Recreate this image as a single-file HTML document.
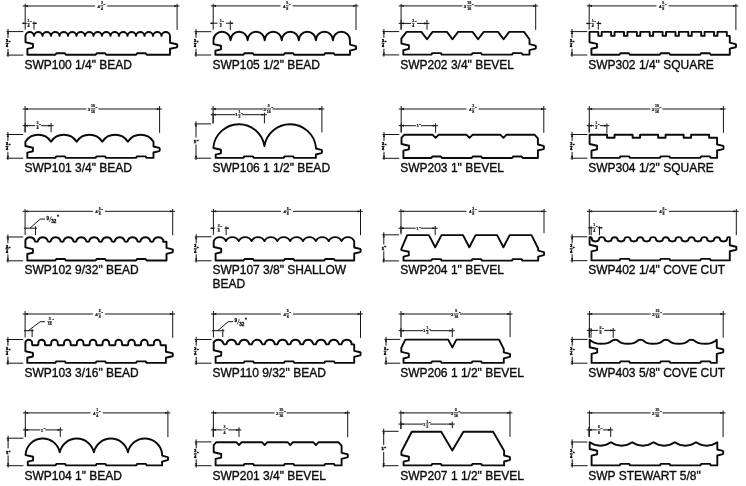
<!DOCTYPE html>
<html>
<head>
<meta charset="utf-8">
<title>SWP Profiles</title>
<style>
html,body{margin:0;padding:0;background:#fff;}
body{width:746px;height:486px;overflow:hidden;}
svg{display:block;font-family:"Liberation Sans",sans-serif;will-change:transform;filter:grayscale(1);}
</style>
</head>
<body>
<svg width="746" height="486" viewBox="0 0 746 486">
<rect width="746" height="486" fill="#fff"/>
<path d="M25.5 35.9 A4.26 4.26 0 0 1 34 35.9 A4.26 4.26 0 0 1 42.5 35.9 A4.26 4.26 0 0 1 51 35.9 A4.26 4.26 0 0 1 59.5 35.9 A4.26 4.26 0 0 1 68 35.9 A4.26 4.26 0 0 1 76.5 35.9 A4.26 4.26 0 0 1 85 35.9 A4.26 4.26 0 0 1 93.5 35.9 A4.26 4.26 0 0 1 102 35.9 A4.26 4.26 0 0 1 110.5 35.9 A4.26 4.26 0 0 1 119 35.9 A4.26 4.26 0 0 1 127.5 35.9 A4.26 4.26 0 0 1 136 35.9 A4.26 4.26 0 0 1 144.5 35.9 A4.26 4.26 0 0 1 153 35.9 A4.26 4.26 0 0 1 161.5 35.9 A4.26 4.26 0 0 1 170 35.9 L170 42.8 L176.8 44.25 L177.2 44.65 L177.2 46.95 L176.8 47.35 L170 48.8 L170 54.8 L146.7 54.8 L145.7 53.3 L137.1 53.3 L136.1 54.8 L106.2 54.8 L105.2 53.3 L96.7 53.3 L95.7 54.8 L65.9 54.8 L64.9 53.3 L56.4 53.3 L55.4 54.8 L27.4 54.8 L27.4 48.9 L33 47.6 L33 44 L25.5 42.3 Z" fill="none" stroke="#0a0a0a" stroke-width="1.9" stroke-linejoin="round"/>
<line x1="22.8" y1="6" x2="95.15" y2="6" stroke="#141414" stroke-width="1.0"/>
<line x1="107.15" y1="6" x2="179.5" y2="6" stroke="#141414" stroke-width="1.0"/>
<line x1="25.2" y1="3.8" x2="25.2" y2="29.6" stroke="#141414" stroke-width="1.0"/>
<line x1="177.1" y1="3.8" x2="177.1" y2="29.9" stroke="#141414" stroke-width="1.0"/>
<polygon points="25.2,6 28,4.85 28,7.15" fill="#141414"/>
<polygon points="177.1,6 174.3,4.85 174.3,7.15" fill="#141414"/>
<g transform="translate(101.15 6) scale(0.1)" font-weight="bold" fill="#141414" stroke="#141414" stroke-width="2"><text x="-35.5" y="16" font-size="44">4</text><text x="7.5" y="-16" font-size="36" text-anchor="middle">3</text><rect x="-4.5" y="-4" width="24" height="6"/><text x="7.5" y="38" font-size="36" text-anchor="middle">4</text><text x="22.5" y="8" font-size="42">"</text></g>
<line x1="8" y1="29" x2="8" y2="37.85" stroke="#141414" stroke-width="1.0"/>
<line x1="8" y1="48.85" x2="8" y2="56.9" stroke="#141414" stroke-width="1.0"/>
<line x1="6.5" y1="31.6" x2="23.3" y2="31.6" stroke="#141414" stroke-width="1.0"/>
<line x1="6.5" y1="55.1" x2="23.3" y2="55.1" stroke="#141414" stroke-width="1.0"/>
<polygon points="8,31.3 6.85,34.1 9.15,34.1" fill="#141414"/>
<polygon points="8,55.4 6.85,52.6 9.15,52.6" fill="#141414"/>
<g transform="translate(7.8 43.55) scale(0.1)" font-weight="bold" fill="#141414" stroke="#141414" stroke-width="5"><text x="-7" y="-16" font-size="36" text-anchor="middle">3</text><rect x="-19" y="-4" width="24" height="6"/><text x="-7" y="38" font-size="36" text-anchor="middle">4</text><text x="8" y="8" font-size="42">"</text></g>
<line x1="34" y1="21.5" x2="34" y2="29.6" stroke="#141414" stroke-width="1.0"/>
<polygon points="25.2,23.3 23,22.3 23,24.3" fill="#141414"/>
<polygon points="34,23.3 36.2,22.3 36.2,24.3" fill="#141414"/>
<line x1="22.2" y1="23.3" x2="26.8" y2="23.3" stroke="#141414" stroke-width="1.0"/>
<line x1="32.4" y1="23.3" x2="37" y2="23.3" stroke="#141414" stroke-width="1.0"/>
<g transform="translate(29.2 23.5) scale(0.1)" font-weight="bold" fill="#141414" stroke="#141414" stroke-width="2"><text x="-7" y="-16" font-size="36" text-anchor="middle">1</text><rect x="-19" y="-4" width="24" height="6"/><text x="-7" y="38" font-size="36" text-anchor="middle">4</text><text x="8" y="8" font-size="42">"</text></g>
<text x="24.4" y="69.2" font-size="12" fill="#0c0c0c" stroke="#0c0c0c" stroke-width="0.35">SWP100 1/4" BEAD</text>
<path d="M213.5 40.3 A8.53 8.53 0 0 1 230.56 40.3 A8.53 8.53 0 0 1 247.62 40.3 A8.53 8.53 0 0 1 264.69 40.3 A8.53 8.53 0 0 1 281.75 40.3 A8.53 8.53 0 0 1 298.81 40.3 A8.53 8.53 0 0 1 315.88 40.3 A8.53 8.53 0 0 1 332.94 40.3 A8.53 8.53 0 0 1 350 40.3 L350 44.6 L355.7 46.05 L356.1 46.45 L356.1 48.75 L355.7 49.15 L350 50.6 L350 54.7 L334.7 54.7 L333.7 53.2 L325.1 53.2 L324.1 54.7 L294.2 54.7 L293.2 53.2 L284.7 53.2 L283.7 54.7 L253.9 54.7 L252.9 53.2 L244.4 53.2 L243.4 54.7 L215.4 54.7 L215.4 50.7 L221 49.4 L221 45.8 L213.5 44.1 Z" fill="none" stroke="#0a0a0a" stroke-width="1.9" stroke-linejoin="round"/>
<line x1="210.8" y1="5.9" x2="280.6" y2="5.9" stroke="#141414" stroke-width="1.0"/>
<line x1="292.6" y1="5.9" x2="358.4" y2="5.9" stroke="#141414" stroke-width="1.0"/>
<line x1="213.2" y1="3.8" x2="213.2" y2="29.7" stroke="#141414" stroke-width="1.0"/>
<line x1="356" y1="3.8" x2="356" y2="30" stroke="#141414" stroke-width="1.0"/>
<polygon points="213.2,5.9 216,4.75 216,7.05" fill="#141414"/>
<polygon points="356,5.9 353.2,4.75 353.2,7.05" fill="#141414"/>
<g transform="translate(286.6 5.9) scale(0.1)" font-weight="bold" fill="#141414" stroke="#141414" stroke-width="2"><text x="-35.5" y="16" font-size="44">4</text><text x="7.5" y="-16" font-size="36" text-anchor="middle">5</text><rect x="-4.5" y="-4" width="24" height="6"/><text x="7.5" y="38" font-size="36" text-anchor="middle">8</text><text x="22.5" y="8" font-size="42">"</text></g>
<line x1="196" y1="29.1" x2="196" y2="37.85" stroke="#141414" stroke-width="1.0"/>
<line x1="196" y1="48.85" x2="196" y2="56.8" stroke="#141414" stroke-width="1.0"/>
<line x1="194.5" y1="31.7" x2="211.3" y2="31.7" stroke="#141414" stroke-width="1.0"/>
<line x1="194.5" y1="55" x2="211.3" y2="55" stroke="#141414" stroke-width="1.0"/>
<polygon points="196,31.4 194.85,34.2 197.15,34.2" fill="#141414"/>
<polygon points="196,55.3 194.85,52.5 197.15,52.5" fill="#141414"/>
<g transform="translate(195.8 43.55) scale(0.1)" font-weight="bold" fill="#141414" stroke="#141414" stroke-width="5"><text x="-7" y="-16" font-size="36" text-anchor="middle">3</text><rect x="-19" y="-4" width="24" height="6"/><text x="-7" y="38" font-size="36" text-anchor="middle">4</text><text x="8" y="8" font-size="42">"</text></g>
<line x1="230.3" y1="20.7" x2="230.3" y2="30" stroke="#141414" stroke-width="1.0"/>
<polygon points="213.2,23.2 211,22.2 211,24.2" fill="#141414"/>
<polygon points="230.3,23.2 232.5,22.2 232.5,24.2" fill="#141414"/>
<line x1="210.2" y1="23.2" x2="217.5" y2="23.2" stroke="#141414" stroke-width="1.0"/>
<line x1="226" y1="23.2" x2="233.3" y2="23.2" stroke="#141414" stroke-width="1.0"/>
<g transform="translate(221.35 23.4) scale(0.1)" font-weight="bold" fill="#141414" stroke="#141414" stroke-width="2"><text x="-7" y="-16" font-size="36" text-anchor="middle">1</text><rect x="-19" y="-4" width="24" height="6"/><text x="-7" y="38" font-size="36" text-anchor="middle">2</text><text x="8" y="8" font-size="42">"</text></g>
<text x="212.4" y="69.2" font-size="12" fill="#0c0c0c" stroke="#0c0c0c" stroke-width="0.35">SWP105 1/2" BEAD</text>
<path d="M401.4 38.4 L406.6 31.9 L421.4 31.9 L427 39.3 L432.6 31.9 L446.9 31.9 L452.5 39.3 L458.1 31.9 L472.5 31.9 L478.1 39.3 L483.7 31.9 L498 31.9 L503.6 39.3 L509.2 31.9 L524 31.9 L529.5 39.3 L529.5 44.1 L535.4 45.55 L535.8 45.95 L535.8 48.25 L535.4 48.65 L529.5 50.1 L529.5 54.6 L522.6 54.6 L521.6 53.1 L513 53.1 L512 54.6 L482.1 54.6 L481.1 53.1 L472.6 53.1 L471.6 54.6 L441.8 54.6 L440.8 53.1 L432.3 53.1 L431.3 54.6 L403.3 54.6 L403.3 50.2 L408.9 48.9 L408.9 45.3 L401.4 43.6 Z" fill="none" stroke="#0a0a0a" stroke-width="1.9" stroke-linejoin="round"/>
<line x1="398.7" y1="5.9" x2="462.4" y2="5.9" stroke="#141414" stroke-width="1.0"/>
<line x1="474.4" y1="5.9" x2="538.1" y2="5.9" stroke="#141414" stroke-width="1.0"/>
<line x1="401.1" y1="3.8" x2="401.1" y2="29.6" stroke="#141414" stroke-width="1.0"/>
<line x1="535.7" y1="3.8" x2="535.7" y2="29.9" stroke="#141414" stroke-width="1.0"/>
<polygon points="401.1,5.9 403.9,4.75 403.9,7.05" fill="#141414"/>
<polygon points="535.7,5.9 532.9,4.75 532.9,7.05" fill="#141414"/>
<g transform="translate(468.4 5.9) scale(0.1)" font-weight="bold" fill="#141414" stroke="#141414" stroke-width="2"><text x="-45.5" y="16" font-size="44">3</text><text x="7.5" y="-16" font-size="36" text-anchor="middle">15</text><rect x="-14.5" y="-4" width="44" height="6"/><text x="7.5" y="38" font-size="36" text-anchor="middle">16</text><text x="32.5" y="8" font-size="42">"</text></g>
<line x1="383.9" y1="29" x2="383.9" y2="37.75" stroke="#141414" stroke-width="1.0"/>
<line x1="383.9" y1="48.75" x2="383.9" y2="56.7" stroke="#141414" stroke-width="1.0"/>
<line x1="382.4" y1="31.6" x2="399.2" y2="31.6" stroke="#141414" stroke-width="1.0"/>
<line x1="382.4" y1="54.9" x2="399.2" y2="54.9" stroke="#141414" stroke-width="1.0"/>
<polygon points="383.9,31.3 382.75,34.1 385.05,34.1" fill="#141414"/>
<polygon points="383.9,55.2 382.75,52.4 385.05,52.4" fill="#141414"/>
<g transform="translate(383.7 43.45) scale(0.1)" font-weight="bold" fill="#141414" stroke="#141414" stroke-width="5"><text x="-7" y="-16" font-size="36" text-anchor="middle">3</text><rect x="-19" y="-4" width="24" height="6"/><text x="-7" y="38" font-size="36" text-anchor="middle">4</text><text x="8" y="8" font-size="42">"</text></g>
<line x1="398.7" y1="23.4" x2="411.05" y2="23.4" stroke="#141414" stroke-width="1.0"/>
<line x1="417.05" y1="23.4" x2="429.4" y2="23.4" stroke="#141414" stroke-width="1.0"/>
<line x1="401.1" y1="19.8" x2="401.1" y2="29.6" stroke="#141414" stroke-width="1.0"/>
<line x1="427" y1="19.8" x2="427" y2="29.6" stroke="#141414" stroke-width="1.0"/>
<polygon points="401.1,23.4 403.9,22.25 403.9,24.55" fill="#141414"/>
<polygon points="427,23.4 424.2,22.25 424.2,24.55" fill="#141414"/>
<g transform="translate(414.05 23.4) scale(0.1)" font-weight="bold" fill="#141414" stroke="#141414" stroke-width="2"><text x="-7" y="-16" font-size="36" text-anchor="middle">3</text><rect x="-19" y="-4" width="24" height="6"/><text x="-7" y="38" font-size="36" text-anchor="middle">4</text><text x="8" y="8" font-size="42">"</text></g>
<text x="400.2" y="69.2" font-size="12" fill="#0c0c0c" stroke="#0c0c0c" stroke-width="0.35">SWP202 3/4" BEVEL</text>
<path d="M589.5 32.9 L589.5 31.9 L598.3 31.9 L598.3 35.9 L601.7 35.9 L601.7 31.9 L611.16 31.9 L611.16 35.9 L614.56 35.9 L614.56 31.9 L624.02 31.9 L624.02 35.9 L627.42 35.9 L627.42 31.9 L636.88 31.9 L636.88 35.9 L640.28 35.9 L640.28 31.9 L649.74 31.9 L649.74 35.9 L653.14 35.9 L653.14 31.9 L662.6 31.9 L662.6 35.9 L666 35.9 L666 31.9 L675.46 31.9 L675.46 35.9 L678.86 35.9 L678.86 31.9 L688.32 31.9 L688.32 35.9 L691.72 35.9 L691.72 31.9 L701.18 31.9 L701.18 35.9 L704.58 35.9 L704.58 31.9 L714.04 31.9 L714.04 35.9 L717.44 35.9 L717.44 31.9 L726.8 31.9 L726.8 35.9 L729.8 35.9 L729.8 42.7 L735.6 44.15 L736 44.55 L736 46.85 L735.6 47.25 L729.8 48.7 L729.8 54.7 L710.7 54.7 L709.7 53.2 L701.1 53.2 L700.1 54.7 L670.2 54.7 L669.2 53.2 L660.7 53.2 L659.7 54.7 L629.9 54.7 L628.9 53.2 L620.4 53.2 L619.4 54.7 L591.4 54.7 L591.4 48.8 L597 47.5 L597 43.9 L589.5 42.2 Z" fill="none" stroke="#0a0a0a" stroke-width="1.9" stroke-linejoin="round"/>
<line x1="586.8" y1="5.9" x2="656.55" y2="5.9" stroke="#141414" stroke-width="1.0"/>
<line x1="668.55" y1="5.9" x2="738.3" y2="5.9" stroke="#141414" stroke-width="1.0"/>
<line x1="589.2" y1="3.8" x2="589.2" y2="29.6" stroke="#141414" stroke-width="1.0"/>
<line x1="735.9" y1="3.8" x2="735.9" y2="29.9" stroke="#141414" stroke-width="1.0"/>
<polygon points="589.2,5.9 592,4.75 592,7.05" fill="#141414"/>
<polygon points="735.9,5.9 733.1,4.75 733.1,7.05" fill="#141414"/>
<g transform="translate(662.55 5.9) scale(0.1)" font-weight="bold" fill="#141414" stroke="#141414" stroke-width="2"><text x="-35.5" y="16" font-size="44">4</text><text x="7.5" y="-16" font-size="36" text-anchor="middle">5</text><rect x="-4.5" y="-4" width="24" height="6"/><text x="7.5" y="38" font-size="36" text-anchor="middle">8</text><text x="22.5" y="8" font-size="42">"</text></g>
<line x1="572" y1="29" x2="572" y2="37.8" stroke="#141414" stroke-width="1.0"/>
<line x1="572" y1="48.8" x2="572" y2="56.8" stroke="#141414" stroke-width="1.0"/>
<line x1="570.5" y1="31.6" x2="587.3" y2="31.6" stroke="#141414" stroke-width="1.0"/>
<line x1="570.5" y1="55" x2="587.3" y2="55" stroke="#141414" stroke-width="1.0"/>
<polygon points="572,31.3 570.85,34.1 573.15,34.1" fill="#141414"/>
<polygon points="572,55.3 570.85,52.5 573.15,52.5" fill="#141414"/>
<g transform="translate(571.8 43.5) scale(0.1)" font-weight="bold" fill="#141414" stroke="#141414" stroke-width="5"><text x="-7" y="-16" font-size="36" text-anchor="middle">3</text><rect x="-19" y="-4" width="24" height="6"/><text x="-7" y="38" font-size="36" text-anchor="middle">4</text><text x="8" y="8" font-size="42">"</text></g>
<line x1="598.3" y1="21.3" x2="598.3" y2="29.6" stroke="#141414" stroke-width="1.0"/>
<polygon points="589.2,23.4 587,22.4 587,24.4" fill="#141414"/>
<polygon points="598.3,23.4 600.5,22.4 600.5,24.4" fill="#141414"/>
<line x1="586.2" y1="23.4" x2="590.8" y2="23.4" stroke="#141414" stroke-width="1.0"/>
<line x1="596.7" y1="23.4" x2="601.3" y2="23.4" stroke="#141414" stroke-width="1.0"/>
<g transform="translate(593.35 23.6) scale(0.1)" font-weight="bold" fill="#141414" stroke="#141414" stroke-width="2"><text x="-7" y="-16" font-size="36" text-anchor="middle">1</text><rect x="-19" y="-4" width="24" height="6"/><text x="-7" y="38" font-size="36" text-anchor="middle">4</text><text x="8" y="8" font-size="42">"</text></g>
<text x="588.2" y="69.2" font-size="12" fill="#0c0c0c" stroke="#0c0c0c" stroke-width="0.35">SWP302 1/4" SQUARE</text>
<path d="M25.4 141.7 A15.34 15.34 0 0 1 51.02 141.7 A15.34 15.34 0 0 1 76.64 141.7 A15.34 15.34 0 0 1 102.26 141.7 A15.34 15.34 0 0 1 127.88 141.7 A15.34 15.34 0 0 1 153.5 141.7 L153.5 146.5 L159.3 147.95 L159.7 148.35 L159.7 150.65 L159.3 151.05 L153.5 152.5 L153.5 157.9 L146.6 157.9 L145.6 156.4 L137 156.4 L136 157.9 L106.1 157.9 L105.1 156.4 L96.6 156.4 L95.6 157.9 L65.8 157.9 L64.8 156.4 L56.3 156.4 L55.3 157.9 L27.3 157.9 L27.3 152.6 L32.9 151.3 L32.9 147.7 L25.4 146 Z" fill="none" stroke="#0a0a0a" stroke-width="1.9" stroke-linejoin="round"/>
<line x1="22.7" y1="109" x2="86.35" y2="109" stroke="#141414" stroke-width="1.0"/>
<line x1="98.35" y1="109" x2="162" y2="109" stroke="#141414" stroke-width="1.0"/>
<line x1="25.1" y1="106" x2="25.1" y2="132.5" stroke="#141414" stroke-width="1.0"/>
<line x1="159.6" y1="106" x2="159.6" y2="132.8" stroke="#141414" stroke-width="1.0"/>
<polygon points="25.1,109 27.9,107.85 27.9,110.15" fill="#141414"/>
<polygon points="159.6,109 156.8,107.85 156.8,110.15" fill="#141414"/>
<g transform="translate(92.35 109) scale(0.1)" font-weight="bold" fill="#141414" stroke="#141414" stroke-width="2"><text x="-45.5" y="16" font-size="44">3</text><text x="7.5" y="-16" font-size="36" text-anchor="middle">15</text><rect x="-14.5" y="-4" width="44" height="6"/><text x="7.5" y="38" font-size="36" text-anchor="middle">16</text><text x="32.5" y="8" font-size="42">"</text></g>
<line x1="7.9" y1="131.9" x2="7.9" y2="140.85" stroke="#141414" stroke-width="1.0"/>
<line x1="7.9" y1="151.85" x2="7.9" y2="160" stroke="#141414" stroke-width="1.0"/>
<line x1="6.4" y1="134.5" x2="23.2" y2="134.5" stroke="#141414" stroke-width="1.0"/>
<line x1="6.4" y1="158.2" x2="23.2" y2="158.2" stroke="#141414" stroke-width="1.0"/>
<polygon points="7.9,134.2 6.75,137 9.05,137" fill="#141414"/>
<polygon points="7.9,158.5 6.75,155.7 9.05,155.7" fill="#141414"/>
<g transform="translate(7.7 146.55) scale(0.1)" font-weight="bold" fill="#141414" stroke="#141414" stroke-width="5"><text x="-7" y="-16" font-size="36" text-anchor="middle">3</text><rect x="-19" y="-4" width="24" height="6"/><text x="-7" y="38" font-size="36" text-anchor="middle">4</text><text x="8" y="8" font-size="42">"</text></g>
<line x1="22.7" y1="125.7" x2="35.1" y2="125.7" stroke="#141414" stroke-width="1.0"/>
<line x1="41.1" y1="125.7" x2="53.5" y2="125.7" stroke="#141414" stroke-width="1.0"/>
<line x1="25.1" y1="123" x2="25.1" y2="132.2" stroke="#141414" stroke-width="1.0"/>
<line x1="51.1" y1="123" x2="51.1" y2="132.2" stroke="#141414" stroke-width="1.0"/>
<polygon points="25.1,125.7 27.9,124.55 27.9,126.85" fill="#141414"/>
<polygon points="51.1,125.7 48.3,124.55 48.3,126.85" fill="#141414"/>
<g transform="translate(38.1 125.7) scale(0.1)" font-weight="bold" fill="#141414" stroke="#141414" stroke-width="2"><text x="-7" y="-16" font-size="36" text-anchor="middle">3</text><rect x="-19" y="-4" width="24" height="6"/><text x="-7" y="38" font-size="36" text-anchor="middle">4</text><text x="8" y="8" font-size="42">"</text></g>
<text x="24.4" y="172.2" font-size="12" fill="#0c0c0c" stroke="#0c0c0c" stroke-width="0.35">SWP101 3/4" BEAD</text>
<path d="M213.4 147.6 L213.4 147 A25.74 25.74 0 0 1 264.4 146 A26.02 26.02 0 0 1 315.9 147 L315.9 148.5 L321.5 149.95 L321.9 150.35 L321.9 152.65 L321.5 153.05 L315.9 154.5 L315.9 157.9 L294.1 157.9 L293.1 156.4 L284.6 156.4 L283.6 157.9 L253.8 157.9 L252.8 156.4 L244.3 156.4 L243.3 157.9 L215.7 157.9 L215.7 154.6 L220.9 153.3 L220.9 149.7 L213.4 148 Z" fill="none" stroke="#0a0a0a" stroke-width="1.9" stroke-linejoin="round"/>
<line x1="210.7" y1="109" x2="263.5" y2="109" stroke="#141414" stroke-width="1.0"/>
<line x1="272.5" y1="109" x2="324.3" y2="109" stroke="#141414" stroke-width="1.0"/>
<line x1="213.1" y1="106" x2="213.1" y2="123.4" stroke="#141414" stroke-width="1.0"/>
<line x1="321.9" y1="106" x2="321.9" y2="132.5" stroke="#141414" stroke-width="1.0"/>
<polygon points="213.1,109 215.9,107.85 215.9,110.15" fill="#141414"/>
<polygon points="321.9,109 319.1,107.85 319.1,110.15" fill="#141414"/>
<g transform="translate(268 109) scale(0.1)" font-weight="bold" fill="#141414" stroke="#141414" stroke-width="2"><text x="-45.5" y="16" font-size="44">3</text><text x="7.5" y="-16" font-size="36" text-anchor="middle">5</text><rect x="-14.5" y="-4" width="44" height="6"/><text x="7.5" y="38" font-size="36" text-anchor="middle">16</text><text x="32.5" y="8" font-size="42">"</text></g>
<line x1="210.7" y1="114.7" x2="235.25" y2="114.7" stroke="#141414" stroke-width="1.0"/>
<line x1="242.25" y1="114.7" x2="266.8" y2="114.7" stroke="#141414" stroke-width="1.0"/>
<line x1="213.1" y1="112.7" x2="213.1" y2="123.4" stroke="#141414" stroke-width="1.0"/>
<line x1="264.4" y1="112.7" x2="264.4" y2="123.4" stroke="#141414" stroke-width="1.0"/>
<polygon points="213.1,114.7 215.9,113.55 215.9,115.85" fill="#141414"/>
<polygon points="264.4,114.7 261.6,113.55 261.6,115.85" fill="#141414"/>
<g transform="translate(238.75 114.7) scale(0.1)" font-weight="bold" fill="#141414" stroke="#141414" stroke-width="2"><text x="-35.5" y="16" font-size="44">1</text><text x="7.5" y="-16" font-size="36" text-anchor="middle">1</text><rect x="-4.5" y="-4" width="24" height="6"/><text x="7.5" y="38" font-size="36" text-anchor="middle">2</text><text x="22.5" y="8" font-size="42">"</text></g>
<line x1="196" y1="121.3" x2="196" y2="137.55" stroke="#141414" stroke-width="1.0"/>
<line x1="196" y1="144.55" x2="196" y2="160" stroke="#141414" stroke-width="1.0"/>
<line x1="194.4" y1="123.9" x2="211.1" y2="123.9" stroke="#141414" stroke-width="1.0"/>
<line x1="194.4" y1="158.2" x2="211.1" y2="158.2" stroke="#141414" stroke-width="1.0"/>
<polygon points="196,123.6 194.85,126.4 197.15,126.4" fill="#141414"/>
<polygon points="196,158.5 194.85,155.7 197.15,155.7" fill="#141414"/>
<g transform="translate(195.8 141.25) scale(0.1)" font-weight="bold" fill="#141414" stroke="#141414" stroke-width="5"><text x="-19.5" y="16" font-size="44">1</text><text x="6.5" y="14" font-size="42">"</text></g>
<text x="212.4" y="172.2" font-size="12" fill="#0c0c0c" stroke="#0c0c0c" stroke-width="0.35">SWP106 1 1/2" BEAD</text>
<path d="M401.5 137.7 L404.2 134.8 L432.7 134.8 L435.6 137.8 L438.5 134.8 L466.6 134.8 L469.5 137.8 L472.4 134.8 L500.5 134.8 L503.4 137.8 L506.3 134.8 L534.7 134.8 L537.9 138.3 L537.9 144.5 L543.5 145.95 L543.9 146.35 L543.9 148.65 L543.5 149.05 L537.9 150.5 L537.9 158 L522.7 158 L521.7 156.5 L513.1 156.5 L512.1 158 L482.2 158 L481.2 156.5 L472.7 156.5 L471.7 158 L441.9 158 L440.9 156.5 L432.4 156.5 L431.4 158 L403.4 158 L403.4 150.6 L409 149.3 L409 145.7 L401.5 144 Z" fill="none" stroke="#0a0a0a" stroke-width="1.9" stroke-linejoin="round"/>
<line x1="398.8" y1="109" x2="466.5" y2="109" stroke="#141414" stroke-width="1.0"/>
<line x1="478.5" y1="109" x2="546.2" y2="109" stroke="#141414" stroke-width="1.0"/>
<line x1="401.2" y1="106" x2="401.2" y2="132.5" stroke="#141414" stroke-width="1.0"/>
<line x1="543.8" y1="106" x2="543.8" y2="132.8" stroke="#141414" stroke-width="1.0"/>
<polygon points="401.2,109 404,107.85 404,110.15" fill="#141414"/>
<polygon points="543.8,109 541,107.85 541,110.15" fill="#141414"/>
<g transform="translate(472.5 109) scale(0.1)" font-weight="bold" fill="#141414" stroke="#141414" stroke-width="2"><text x="-35.5" y="16" font-size="44">4</text><text x="7.5" y="-16" font-size="36" text-anchor="middle">3</text><rect x="-4.5" y="-4" width="24" height="6"/><text x="7.5" y="38" font-size="36" text-anchor="middle">8</text><text x="22.5" y="8" font-size="42">"</text></g>
<line x1="384" y1="131.9" x2="384" y2="140.9" stroke="#141414" stroke-width="1.0"/>
<line x1="384" y1="151.9" x2="384" y2="160.1" stroke="#141414" stroke-width="1.0"/>
<line x1="382.5" y1="134.5" x2="399.3" y2="134.5" stroke="#141414" stroke-width="1.0"/>
<line x1="382.5" y1="158.3" x2="399.3" y2="158.3" stroke="#141414" stroke-width="1.0"/>
<polygon points="384,134.2 382.85,137 385.15,137" fill="#141414"/>
<polygon points="384,158.6 382.85,155.8 385.15,155.8" fill="#141414"/>
<g transform="translate(383.8 146.6) scale(0.1)" font-weight="bold" fill="#141414" stroke="#141414" stroke-width="5"><text x="-7" y="-16" font-size="36" text-anchor="middle">3</text><rect x="-19" y="-4" width="24" height="6"/><text x="-7" y="38" font-size="36" text-anchor="middle">4</text><text x="8" y="8" font-size="42">"</text></g>
<line x1="398.8" y1="125.7" x2="415.9" y2="125.7" stroke="#141414" stroke-width="1.0"/>
<line x1="420.9" y1="125.7" x2="438" y2="125.7" stroke="#141414" stroke-width="1.0"/>
<line x1="401.2" y1="123.4" x2="401.2" y2="132.5" stroke="#141414" stroke-width="1.0"/>
<line x1="435.6" y1="123.4" x2="435.6" y2="132.8" stroke="#141414" stroke-width="1.0"/>
<polygon points="401.2,125.7 404,124.55 404,126.85" fill="#141414"/>
<polygon points="435.6,125.7 432.8,124.55 432.8,126.85" fill="#141414"/>
<g transform="translate(418.4 125.7) scale(0.1)" font-weight="bold" fill="#141414" stroke="#141414" stroke-width="2"><text x="-19.5" y="16" font-size="44">1</text><text x="6.5" y="14" font-size="42">"</text></g>
<text x="400.2" y="172.2" font-size="12" fill="#0c0c0c" stroke="#0c0c0c" stroke-width="0.35">SWP203 1" BEVEL</text>
<path d="M589.6 135.8 L589.6 134.8 L607.1 134.8 L607.1 137.7 L614.55 137.7 L614.55 134.8 L632.62 134.8 L632.62 137.7 L640.07 137.7 L640.07 134.8 L658.14 134.8 L658.14 137.7 L665.59 137.7 L665.59 134.8 L683.66 134.8 L683.66 137.7 L691.11 137.7 L691.11 134.8 L709.1 134.8 L709.1 137.7 L717.1 137.7 L717.1 144.5 L723.1 145.95 L723.5 146.35 L723.5 148.65 L723.1 149.05 L717.1 150.5 L717.1 157.9 L710.8 157.9 L709.8 156.4 L701.2 156.4 L700.2 157.9 L670.3 157.9 L669.3 156.4 L660.8 156.4 L659.8 157.9 L630 157.9 L629 156.4 L620.5 156.4 L619.5 157.9 L591.5 157.9 L591.5 150.6 L597.1 149.3 L597.1 145.7 L589.6 144 Z" fill="none" stroke="#0a0a0a" stroke-width="1.9" stroke-linejoin="round"/>
<line x1="586.9" y1="109" x2="650.35" y2="109" stroke="#141414" stroke-width="1.0"/>
<line x1="662.35" y1="109" x2="725.8" y2="109" stroke="#141414" stroke-width="1.0"/>
<line x1="589.3" y1="106" x2="589.3" y2="132.5" stroke="#141414" stroke-width="1.0"/>
<line x1="723.4" y1="106" x2="723.4" y2="132.8" stroke="#141414" stroke-width="1.0"/>
<polygon points="589.3,109 592.1,107.85 592.1,110.15" fill="#141414"/>
<polygon points="723.4,109 720.6,107.85 720.6,110.15" fill="#141414"/>
<g transform="translate(656.35 109) scale(0.1)" font-weight="bold" fill="#141414" stroke="#141414" stroke-width="2"><text x="-45.5" y="16" font-size="44">3</text><text x="7.5" y="-16" font-size="36" text-anchor="middle">15</text><rect x="-14.5" y="-4" width="44" height="6"/><text x="7.5" y="38" font-size="36" text-anchor="middle">16</text><text x="32.5" y="8" font-size="42">"</text></g>
<line x1="572.1" y1="131.9" x2="572.1" y2="140.85" stroke="#141414" stroke-width="1.0"/>
<line x1="572.1" y1="151.85" x2="572.1" y2="160" stroke="#141414" stroke-width="1.0"/>
<line x1="570.6" y1="134.5" x2="587.4" y2="134.5" stroke="#141414" stroke-width="1.0"/>
<line x1="570.6" y1="158.2" x2="587.4" y2="158.2" stroke="#141414" stroke-width="1.0"/>
<polygon points="572.1,134.2 570.95,137 573.25,137" fill="#141414"/>
<polygon points="572.1,158.5 570.95,155.7 573.25,155.7" fill="#141414"/>
<g transform="translate(571.9 146.55) scale(0.1)" font-weight="bold" fill="#141414" stroke="#141414" stroke-width="5"><text x="-7" y="-16" font-size="36" text-anchor="middle">3</text><rect x="-19" y="-4" width="24" height="6"/><text x="-7" y="38" font-size="36" text-anchor="middle">4</text><text x="8" y="8" font-size="42">"</text></g>
<line x1="586.7" y1="125.7" x2="594" y2="125.7" stroke="#141414" stroke-width="1.0"/>
<line x1="600" y1="125.7" x2="609.3" y2="125.7" stroke="#141414" stroke-width="1.0"/>
<line x1="589.1" y1="123.4" x2="589.1" y2="132.5" stroke="#141414" stroke-width="1.0"/>
<line x1="606.9" y1="123.4" x2="606.9" y2="133.5" stroke="#141414" stroke-width="1.0"/>
<polygon points="589.1,125.7 591.9,124.55 591.9,126.85" fill="#141414"/>
<polygon points="606.9,125.7 604.1,124.55 604.1,126.85" fill="#141414"/>
<g transform="translate(597 125.7) scale(0.1)" font-weight="bold" fill="#141414" stroke="#141414" stroke-width="2"><text x="-7" y="-16" font-size="36" text-anchor="middle">1</text><rect x="-19" y="-4" width="24" height="6"/><text x="-7" y="38" font-size="36" text-anchor="middle">2</text><text x="8" y="8" font-size="42">"</text></g>
<text x="588.2" y="172.2" font-size="12" fill="#0c0c0c" stroke="#0c0c0c" stroke-width="0.35">SWP304 1/2" SQUARE</text>
<path d="M25.4 240.6 L25.4 240 A5.27 5.27 0 0 1 34.6 240 A1.8 1.8 0 0 0 38.2 240 A5.29 5.29 0 0 1 47.42 240 A1.8 1.8 0 0 0 51.02 240 A5.29 5.29 0 0 1 60.24 240 A1.8 1.8 0 0 0 63.84 240 A5.29 5.29 0 0 1 73.06 240 A1.8 1.8 0 0 0 76.66 240 A5.29 5.29 0 0 1 85.88 240 A1.8 1.8 0 0 0 89.48 240 A5.29 5.29 0 0 1 98.7 240 A1.8 1.8 0 0 0 102.3 240 A5.29 5.29 0 0 1 111.52 240 A1.8 1.8 0 0 0 115.12 240 A5.29 5.29 0 0 1 124.34 240 A1.8 1.8 0 0 0 127.94 240 A5.29 5.29 0 0 1 137.16 240 A1.8 1.8 0 0 0 140.76 240 A5.29 5.29 0 0 1 149.98 240 A1.8 1.8 0 0 0 153.58 240 A5.63 5.63 0 0 1 163.2 240 L163.2 241.8 L166.5 241.8 L166.5 247.9 L172.4 249.35 L172.8 249.75 L172.8 252.05 L172.4 252.45 L166.5 253.9 L166.5 260.5 L146.6 260.5 L145.6 259 L137 259 L136 260.5 L106.1 260.5 L105.1 259 L96.6 259 L95.6 260.5 L65.8 260.5 L64.8 259 L56.3 259 L55.3 260.5 L27.3 260.5 L27.3 254 L32.9 252.7 L32.9 249.1 L25.4 247.4 Z" fill="none" stroke="#0a0a0a" stroke-width="1.9" stroke-linejoin="round"/>
<line x1="22.7" y1="211.3" x2="92.9" y2="211.3" stroke="#141414" stroke-width="1.0"/>
<line x1="104.9" y1="211.3" x2="175.1" y2="211.3" stroke="#141414" stroke-width="1.0"/>
<line x1="25.1" y1="209" x2="25.1" y2="235" stroke="#141414" stroke-width="1.0"/>
<line x1="172.7" y1="209" x2="172.7" y2="235.3" stroke="#141414" stroke-width="1.0"/>
<polygon points="25.1,211.3 27.9,210.15 27.9,212.45" fill="#141414"/>
<polygon points="172.7,211.3 169.9,210.15 169.9,212.45" fill="#141414"/>
<g transform="translate(98.9 211.3) scale(0.1)" font-weight="bold" fill="#141414" stroke="#141414" stroke-width="2"><text x="-35.5" y="16" font-size="44">4</text><text x="7.5" y="-16" font-size="36" text-anchor="middle">5</text><rect x="-4.5" y="-4" width="24" height="6"/><text x="7.5" y="38" font-size="36" text-anchor="middle">8</text><text x="22.5" y="8" font-size="42">"</text></g>
<line x1="7.9" y1="234.4" x2="7.9" y2="243.4" stroke="#141414" stroke-width="1.0"/>
<line x1="7.9" y1="254.4" x2="7.9" y2="262.6" stroke="#141414" stroke-width="1.0"/>
<line x1="6.4" y1="237" x2="23.2" y2="237" stroke="#141414" stroke-width="1.0"/>
<line x1="6.4" y1="260.8" x2="23.2" y2="260.8" stroke="#141414" stroke-width="1.0"/>
<polygon points="7.9,236.7 6.75,239.5 9.05,239.5" fill="#141414"/>
<polygon points="7.9,261.1 6.75,258.3 9.05,258.3" fill="#141414"/>
<g transform="translate(7.7 249.1) scale(0.1)" font-weight="bold" fill="#141414" stroke="#141414" stroke-width="5"><text x="-7" y="-16" font-size="36" text-anchor="middle">3</text><rect x="-19" y="-4" width="24" height="6"/><text x="-7" y="38" font-size="36" text-anchor="middle">4</text><text x="8" y="8" font-size="42">"</text></g>
<line x1="35.5" y1="226.4" x2="35.5" y2="235.1" stroke="#141414" stroke-width="1.0"/>
<line x1="23.9" y1="228.2" x2="37.1" y2="228.2" stroke="#141414" stroke-width="1.0"/>
<line x1="30" y1="228.2" x2="40.2" y2="219.1" stroke="#141414" stroke-width="1.0"/>
<line x1="40.2" y1="219.1" x2="45" y2="219.1" stroke="#141414" stroke-width="1.0"/>
<g transform="translate(46.4 219.3) scale(0.1)" font-weight="bold" fill="#141414" stroke="#141414" stroke-width="3"><text x="0" y="4" font-size="46">9</text><line x1="28" y1="26" x2="50" y2="-30" stroke="#141414" stroke-width="7"/><text x="48" y="36" font-size="46">32</text><text x="104" y="0" font-size="50">"</text></g>
<text x="24.4" y="273.9" font-size="12" fill="#0c0c0c" stroke="#0c0c0c" stroke-width="0.35">SWP102 9/32" BEAD</text>
<path d="M213.7 241.9 L213.7 241.1 A6.65 6.65 0 0 1 225.9 241.1 A7.16 7.16 0 0 1 238.75 241.1 A7.16 7.16 0 0 1 251.6 241.1 A7.16 7.16 0 0 1 264.45 241.1 A7.16 7.16 0 0 1 277.3 241.1 A7.16 7.16 0 0 1 290.15 241.1 A7.16 7.16 0 0 1 303 241.1 A7.16 7.16 0 0 1 315.85 241.1 A7.16 7.16 0 0 1 328.7 241.1 A7.16 7.16 0 0 1 341.55 241.1 A7 7 0 0 1 354.2 241.1 L354.2 247.5 L360.2 248.95 L360.6 249.35 L360.6 251.65 L360.2 252.05 L354.2 253.5 L354.2 260.5 L334.9 260.5 L333.9 259 L325.3 259 L324.3 260.5 L294.4 260.5 L293.4 259 L284.9 259 L283.9 260.5 L254.1 260.5 L253.1 259 L244.6 259 L243.6 260.5 L215.6 260.5 L215.6 253.6 L221.2 252.3 L221.2 248.7 L213.7 247 Z" fill="none" stroke="#0a0a0a" stroke-width="1.9" stroke-linejoin="round"/>
<line x1="211" y1="211.3" x2="280.95" y2="211.3" stroke="#141414" stroke-width="1.0"/>
<line x1="292.95" y1="211.3" x2="362.9" y2="211.3" stroke="#141414" stroke-width="1.0"/>
<line x1="213.4" y1="209" x2="213.4" y2="234.8" stroke="#141414" stroke-width="1.0"/>
<line x1="360.5" y1="209" x2="360.5" y2="235.1" stroke="#141414" stroke-width="1.0"/>
<polygon points="213.4,211.3 216.2,210.15 216.2,212.45" fill="#141414"/>
<polygon points="360.5,211.3 357.7,210.15 357.7,212.45" fill="#141414"/>
<g transform="translate(286.95 211.3) scale(0.1)" font-weight="bold" fill="#141414" stroke="#141414" stroke-width="2"><text x="-35.5" y="16" font-size="44">4</text><text x="7.5" y="-16" font-size="36" text-anchor="middle">5</text><rect x="-4.5" y="-4" width="24" height="6"/><text x="7.5" y="38" font-size="36" text-anchor="middle">8</text><text x="22.5" y="8" font-size="42">"</text></g>
<line x1="196.2" y1="234.2" x2="196.2" y2="243.3" stroke="#141414" stroke-width="1.0"/>
<line x1="196.2" y1="254.3" x2="196.2" y2="262.6" stroke="#141414" stroke-width="1.0"/>
<line x1="194.7" y1="236.8" x2="211.5" y2="236.8" stroke="#141414" stroke-width="1.0"/>
<line x1="194.7" y1="260.8" x2="211.5" y2="260.8" stroke="#141414" stroke-width="1.0"/>
<polygon points="196.2,236.5 195.05,239.3 197.35,239.3" fill="#141414"/>
<polygon points="196.2,261.1 195.05,258.3 197.35,258.3" fill="#141414"/>
<g transform="translate(196 249) scale(0.1)" font-weight="bold" fill="#141414" stroke="#141414" stroke-width="5"><text x="-7" y="-16" font-size="36" text-anchor="middle">3</text><rect x="-19" y="-4" width="24" height="6"/><text x="-7" y="38" font-size="36" text-anchor="middle">4</text><text x="8" y="8" font-size="42">"</text></g>
<line x1="226.1" y1="226.4" x2="226.1" y2="235.1" stroke="#141414" stroke-width="1.0"/>
<polygon points="213.4,228.2 211.2,227.2 211.2,229.2" fill="#141414"/>
<polygon points="226.1,228.2 228.3,227.2 228.3,229.2" fill="#141414"/>
<line x1="210.4" y1="228.2" x2="215" y2="228.2" stroke="#141414" stroke-width="1.0"/>
<line x1="224.5" y1="228.2" x2="229.1" y2="228.2" stroke="#141414" stroke-width="1.0"/>
<g transform="translate(219.35 228.4) scale(0.1)" font-weight="bold" fill="#141414" stroke="#141414" stroke-width="2"><text x="-7" y="-16" font-size="36" text-anchor="middle">3</text><rect x="-19" y="-4" width="24" height="6"/><text x="-7" y="38" font-size="36" text-anchor="middle">8</text><text x="8" y="8" font-size="42">"</text></g>
<text x="212.4" y="273.9" font-size="12" fill="#0c0c0c" stroke="#0c0c0c" stroke-width="0.35">SWP107 3/8" SHALLOW</text>
<text x="212.4" y="287.7" font-size="12" fill="#0c0c0c" stroke="#0c0c0c" stroke-width="0.35">BEAD</text>
<path d="M401.3 249.2 L407.2 235.1 L428.9 235.1 L435.2 247.3 L441.5 235.1 L463 235.1 L469.3 247.3 L475.6 235.1 L497.1 235.1 L503.4 247.3 L509.7 235.1 L531.5 235.1 L538.2 248.5 L538.2 250.6 L543.7 252.05 L544.1 252.45 L544.1 254.75 L543.7 255.15 L538.2 256.6 L538.2 260.6 L522.5 260.6 L521.5 259.1 L512.9 259.1 L511.9 260.6 L482 260.6 L481 259.1 L472.5 259.1 L471.5 260.6 L441.7 260.6 L440.7 259.1 L432.2 259.1 L431.2 260.6 L403.5 260.6 L403.5 256.7 L408.8 255.4 L408.8 251.8 L401.3 250.1 Z" fill="none" stroke="#0a0a0a" stroke-width="1.9" stroke-linejoin="round"/>
<line x1="398.6" y1="211.3" x2="466.5" y2="211.3" stroke="#141414" stroke-width="1.0"/>
<line x1="478.5" y1="211.3" x2="546.4" y2="211.3" stroke="#141414" stroke-width="1.0"/>
<line x1="401" y1="209" x2="401" y2="232.8" stroke="#141414" stroke-width="1.0"/>
<line x1="544" y1="209" x2="544" y2="233.1" stroke="#141414" stroke-width="1.0"/>
<polygon points="401,211.3 403.8,210.15 403.8,212.45" fill="#141414"/>
<polygon points="544,211.3 541.2,210.15 541.2,212.45" fill="#141414"/>
<g transform="translate(472.5 211.3) scale(0.1)" font-weight="bold" fill="#141414" stroke="#141414" stroke-width="2"><text x="-35.5" y="16" font-size="44">4</text><text x="7.5" y="-16" font-size="36" text-anchor="middle">3</text><rect x="-4.5" y="-4" width="24" height="6"/><text x="7.5" y="38" font-size="36" text-anchor="middle">8</text><text x="22.5" y="8" font-size="42">"</text></g>
<line x1="383.8" y1="232.2" x2="383.8" y2="244.35" stroke="#141414" stroke-width="1.0"/>
<line x1="383.8" y1="251.35" x2="383.8" y2="262.7" stroke="#141414" stroke-width="1.0"/>
<line x1="382.3" y1="234.8" x2="399.1" y2="234.8" stroke="#141414" stroke-width="1.0"/>
<line x1="382.3" y1="260.9" x2="399.1" y2="260.9" stroke="#141414" stroke-width="1.0"/>
<polygon points="383.8,234.5 382.65,237.3 384.95,237.3" fill="#141414"/>
<polygon points="383.8,261.2 382.65,258.4 384.95,258.4" fill="#141414"/>
<g transform="translate(383.6 248.05) scale(0.1)" font-weight="bold" fill="#141414" stroke="#141414" stroke-width="5"><text x="-19.5" y="16" font-size="44">1</text><text x="6.5" y="14" font-size="42">"</text></g>
<line x1="398.6" y1="228.2" x2="415.6" y2="228.2" stroke="#141414" stroke-width="1.0"/>
<line x1="420.6" y1="228.2" x2="437.6" y2="228.2" stroke="#141414" stroke-width="1.0"/>
<line x1="401" y1="226" x2="401" y2="234.5" stroke="#141414" stroke-width="1.0"/>
<line x1="435.2" y1="226" x2="435.2" y2="235.1" stroke="#141414" stroke-width="1.0"/>
<polygon points="401,228.2 403.8,227.05 403.8,229.35" fill="#141414"/>
<polygon points="435.2,228.2 432.4,227.05 432.4,229.35" fill="#141414"/>
<g transform="translate(418.1 228.2) scale(0.1)" font-weight="bold" fill="#141414" stroke="#141414" stroke-width="2"><text x="-19.5" y="16" font-size="44">1</text><text x="6.5" y="14" font-size="42">"</text></g>
<text x="400.2" y="273.9" font-size="12" fill="#0c0c0c" stroke="#0c0c0c" stroke-width="0.35">SWP204 1" BEVEL</text>
<path d="M589.6 238.3 L589.6 237.1 L590.6 237.1 A1.2 1.76 0 0 1 591.8 238.86 A3.6 2.64 0 0 0 599 238.86 A2.8 1.76 0 0 1 604.61 238.86 A3.6 2.64 0 0 0 611.81 238.86 A2.81 1.76 0 0 1 617.42 238.86 A3.6 2.64 0 0 0 624.62 238.86 A2.8 1.76 0 0 1 630.23 238.86 A3.6 2.64 0 0 0 637.43 238.86 A2.81 1.76 0 0 1 643.04 238.86 A3.6 2.64 0 0 0 650.24 238.86 A2.8 1.76 0 0 1 655.85 238.86 A3.6 2.64 0 0 0 663.05 238.86 A2.81 1.76 0 0 1 668.66 238.86 A3.6 2.64 0 0 0 675.86 238.86 A2.8 1.76 0 0 1 681.47 238.86 A3.6 2.64 0 0 0 688.67 238.86 A2.81 1.76 0 0 1 694.28 238.86 A3.6 2.64 0 0 0 701.48 238.86 A2.8 1.76 0 0 1 707.09 238.86 A3.6 2.64 0 0 0 714.29 238.86 A2.81 1.76 0 0 1 719.9 238.86 A3.6 2.64 0 0 0 727.1 238.86 A1.2 1.76 0 0 1 728.3 237.1 L729.8 237.1 L729.8 245.3 L736 246.75 L736.4 247.15 L736.4 249.45 L736 249.85 L729.8 251.3 L729.8 260.4 L710.8 260.4 L709.8 258.9 L701.2 258.9 L700.2 260.4 L670.3 260.4 L669.3 258.9 L660.8 258.9 L659.8 260.4 L630 260.4 L629 258.9 L620.5 258.9 L619.5 260.4 L591.5 260.4 L591.5 251.4 L597.1 250.1 L597.1 246.5 L589.6 244.8 Z" fill="none" stroke="#0a0a0a" stroke-width="1.9" stroke-linejoin="round"/>
<line x1="586.9" y1="211.3" x2="656.8" y2="211.3" stroke="#141414" stroke-width="1.0"/>
<line x1="668.8" y1="211.3" x2="738.7" y2="211.3" stroke="#141414" stroke-width="1.0"/>
<line x1="589.3" y1="209" x2="589.3" y2="234.8" stroke="#141414" stroke-width="1.0"/>
<line x1="736.3" y1="209" x2="736.3" y2="235.1" stroke="#141414" stroke-width="1.0"/>
<polygon points="589.3,211.3 592.1,210.15 592.1,212.45" fill="#141414"/>
<polygon points="736.3,211.3 733.5,210.15 733.5,212.45" fill="#141414"/>
<g transform="translate(662.8 211.3) scale(0.1)" font-weight="bold" fill="#141414" stroke="#141414" stroke-width="2"><text x="-35.5" y="16" font-size="44">4</text><text x="7.5" y="-16" font-size="36" text-anchor="middle">5</text><rect x="-4.5" y="-4" width="24" height="6"/><text x="7.5" y="38" font-size="36" text-anchor="middle">8</text><text x="22.5" y="8" font-size="42">"</text></g>
<line x1="572.1" y1="234.2" x2="572.1" y2="243.25" stroke="#141414" stroke-width="1.0"/>
<line x1="572.1" y1="254.25" x2="572.1" y2="262.5" stroke="#141414" stroke-width="1.0"/>
<line x1="570.6" y1="236.8" x2="587.4" y2="236.8" stroke="#141414" stroke-width="1.0"/>
<line x1="570.6" y1="260.7" x2="587.4" y2="260.7" stroke="#141414" stroke-width="1.0"/>
<polygon points="572.1,236.5 570.95,239.3 573.25,239.3" fill="#141414"/>
<polygon points="572.1,261 570.95,258.2 573.25,258.2" fill="#141414"/>
<g transform="translate(571.9 248.95) scale(0.1)" font-weight="bold" fill="#141414" stroke="#141414" stroke-width="5"><text x="-7" y="-16" font-size="36" text-anchor="middle">3</text><rect x="-19" y="-4" width="24" height="6"/><text x="-7" y="38" font-size="36" text-anchor="middle">4</text><text x="8" y="8" font-size="42">"</text></g>
<line x1="591.2" y1="226.4" x2="591.2" y2="235.1" stroke="#141414" stroke-width="1.0"/>
<line x1="599.5" y1="226.4" x2="599.5" y2="235.1" stroke="#141414" stroke-width="1.0"/>
<polygon points="591.2,227.8 589,226.8 589,228.8" fill="#141414"/>
<polygon points="599.5,227.8 601.7,226.8 601.7,228.8" fill="#141414"/>
<line x1="588.2" y1="227.8" x2="592.8" y2="227.8" stroke="#141414" stroke-width="1.0"/>
<line x1="597.9" y1="227.8" x2="602.5" y2="227.8" stroke="#141414" stroke-width="1.0"/>
<g transform="translate(594.95 228) scale(0.1)" font-weight="bold" fill="#141414" stroke="#141414" stroke-width="2"><text x="-7" y="-16" font-size="36" text-anchor="middle">1</text><rect x="-19" y="-4" width="24" height="6"/><text x="-7" y="38" font-size="36" text-anchor="middle">4</text><text x="8" y="8" font-size="42">"</text></g>
<text x="588.2" y="273.9" font-size="12" fill="#0c0c0c" stroke="#0c0c0c" stroke-width="0.35">SWP402 1/4" COVE CUT</text>
<path d="M25.4 343.6 L25.4 343.1 A3.35 3.3 0 0 1 32.1 343.1 L32.1 344.5 Q32.1 345.2 32.8 345.2 L37.64 345.2 Q38.34 345.2 38.34 344.5 L38.34 343.1 A3.3 3.3 0 0 1 44.94 343.1 L44.94 344.5 Q44.94 345.2 45.64 345.2 L50.48 345.2 Q51.18 345.2 51.18 344.5 L51.18 343.1 A3.3 3.3 0 0 1 57.78 343.1 L57.78 344.5 Q57.78 345.2 58.48 345.2 L63.32 345.2 Q64.02 345.2 64.02 344.5 L64.02 343.1 A3.3 3.3 0 0 1 70.62 343.1 L70.62 344.5 Q70.62 345.2 71.32 345.2 L76.16 345.2 Q76.86 345.2 76.86 344.5 L76.86 343.1 A3.3 3.3 0 0 1 83.46 343.1 L83.46 344.5 Q83.46 345.2 84.16 345.2 L89 345.2 Q89.7 345.2 89.7 344.5 L89.7 343.1 A3.3 3.3 0 0 1 96.3 343.1 L96.3 344.5 Q96.3 345.2 97 345.2 L101.84 345.2 Q102.54 345.2 102.54 344.5 L102.54 343.1 A3.3 3.3 0 0 1 109.14 343.1 L109.14 344.5 Q109.14 345.2 109.84 345.2 L114.68 345.2 Q115.38 345.2 115.38 344.5 L115.38 343.1 A3.3 3.3 0 0 1 121.98 343.1 L121.98 344.5 Q121.98 345.2 122.68 345.2 L127.52 345.2 Q128.22 345.2 128.22 344.5 L128.22 343.1 A3.3 3.3 0 0 1 134.82 343.1 L134.82 344.5 Q134.82 345.2 135.52 345.2 L140.36 345.2 Q141.06 345.2 141.06 344.5 L141.06 343.1 A3.3 3.3 0 0 1 147.66 343.1 L147.66 344.5 Q147.66 345.2 148.36 345.2 L153.2 345.2 Q153.9 345.2 153.9 344.5 L153.9 343.1 A3.3 3.3 0 0 1 160.5 343.1 L160.5 344.5 Q160.5 345.2 161.2 345.2 L165.9 345.2 L165.9 351.7 L172.4 353.15 L172.8 353.55 L172.8 355.85 L172.4 356.25 L165.9 357.7 L165.9 362.9 L146.6 362.9 L145.6 361.4 L137 361.4 L136 362.9 L106.1 362.9 L105.1 361.4 L96.6 361.4 L95.6 362.9 L65.8 362.9 L64.8 361.4 L56.3 361.4 L55.3 362.9 L27.3 362.9 L27.3 357.8 L32.9 356.5 L32.9 352.9 L25.4 351.2 Z" fill="none" stroke="#0a0a0a" stroke-width="1.9" stroke-linejoin="round"/>
<line x1="22.7" y1="314" x2="92.9" y2="314" stroke="#141414" stroke-width="1.0"/>
<line x1="104.9" y1="314" x2="175.1" y2="314" stroke="#141414" stroke-width="1.0"/>
<line x1="25.1" y1="311" x2="25.1" y2="337.5" stroke="#141414" stroke-width="1.0"/>
<line x1="172.7" y1="311" x2="172.7" y2="337.8" stroke="#141414" stroke-width="1.0"/>
<polygon points="25.1,314 27.9,312.85 27.9,315.15" fill="#141414"/>
<polygon points="172.7,314 169.9,312.85 169.9,315.15" fill="#141414"/>
<g transform="translate(98.9 314) scale(0.1)" font-weight="bold" fill="#141414" stroke="#141414" stroke-width="2"><text x="-35.5" y="16" font-size="44">4</text><text x="7.5" y="-16" font-size="36" text-anchor="middle">5</text><rect x="-4.5" y="-4" width="24" height="6"/><text x="7.5" y="38" font-size="36" text-anchor="middle">8</text><text x="22.5" y="8" font-size="42">"</text></g>
<line x1="7.9" y1="336.9" x2="7.9" y2="345.85" stroke="#141414" stroke-width="1.0"/>
<line x1="7.9" y1="356.85" x2="7.9" y2="365" stroke="#141414" stroke-width="1.0"/>
<line x1="6.4" y1="339.5" x2="23.2" y2="339.5" stroke="#141414" stroke-width="1.0"/>
<line x1="6.4" y1="363.2" x2="23.2" y2="363.2" stroke="#141414" stroke-width="1.0"/>
<polygon points="7.9,339.2 6.75,342 9.05,342" fill="#141414"/>
<polygon points="7.9,363.5 6.75,360.7 9.05,360.7" fill="#141414"/>
<g transform="translate(7.7 351.55) scale(0.1)" font-weight="bold" fill="#141414" stroke="#141414" stroke-width="5"><text x="-7" y="-16" font-size="36" text-anchor="middle">3</text><rect x="-19" y="-4" width="24" height="6"/><text x="-7" y="38" font-size="36" text-anchor="middle">4</text><text x="8" y="8" font-size="42">"</text></g>
<line x1="32.1" y1="328.8" x2="32.1" y2="337.1" stroke="#141414" stroke-width="1.0"/>
<line x1="23.9" y1="330.7" x2="33.7" y2="330.7" stroke="#141414" stroke-width="1.0"/>
<line x1="28.3" y1="330.7" x2="40.2" y2="321.7" stroke="#141414" stroke-width="1.0"/>
<line x1="40.2" y1="321.7" x2="45" y2="321.7" stroke="#141414" stroke-width="1.0"/>
<g transform="translate(50.4 321.6) scale(0.1)" font-weight="bold" fill="#141414" stroke="#141414" stroke-width="2"><text x="-7" y="-16" font-size="36" text-anchor="middle">3</text><rect x="-29" y="-4" width="44" height="6"/><text x="-7" y="38" font-size="36" text-anchor="middle">16</text><text x="18" y="8" font-size="42">"</text></g>
<text x="24.4" y="376.7" font-size="12" fill="#0c0c0c" stroke="#0c0c0c" stroke-width="0.35">SWP103 3/16" BEAD</text>
<path d="M213.7 343.1 L213.7 342.5 A5.44 5.44 0 0 1 223.1 342.5 A1.9 1.9 0 0 0 226.9 342.5 A5.1 5.1 0 0 1 235.9 342.5 A1.9 1.9 0 0 0 239.7 342.5 A5.1 5.1 0 0 1 248.7 342.5 A1.9 1.9 0 0 0 252.5 342.5 A5.1 5.1 0 0 1 261.5 342.5 A1.9 1.9 0 0 0 265.3 342.5 A5.1 5.1 0 0 1 274.3 342.5 A1.9 1.9 0 0 0 278.1 342.5 A5.1 5.1 0 0 1 287.1 342.5 A1.9 1.9 0 0 0 290.9 342.5 A5.1 5.1 0 0 1 299.9 342.5 A1.9 1.9 0 0 0 303.7 342.5 A5.1 5.1 0 0 1 312.7 342.5 A1.9 1.9 0 0 0 316.5 342.5 A5.1 5.1 0 0 1 325.5 342.5 A1.9 1.9 0 0 0 329.3 342.5 A5.1 5.1 0 0 1 338.3 342.5 A1.9 1.9 0 0 0 342.1 342.5 A5.44 5.44 0 0 1 351.5 342.5 L351.5 344.4 L354.2 344.4 L354.2 350.8 L360.2 352.25 L360.6 352.65 L360.6 354.95 L360.2 355.35 L354.2 356.8 L354.2 362.9 L334.9 362.9 L333.9 361.4 L325.3 361.4 L324.3 362.9 L294.4 362.9 L293.4 361.4 L284.9 361.4 L283.9 362.9 L254.1 362.9 L253.1 361.4 L244.6 361.4 L243.6 362.9 L215.6 362.9 L215.6 356.9 L221.2 355.6 L221.2 352 L213.7 350.3 Z" fill="none" stroke="#0a0a0a" stroke-width="1.9" stroke-linejoin="round"/>
<line x1="211" y1="314" x2="280.95" y2="314" stroke="#141414" stroke-width="1.0"/>
<line x1="292.95" y1="314" x2="362.9" y2="314" stroke="#141414" stroke-width="1.0"/>
<line x1="213.4" y1="311" x2="213.4" y2="337.5" stroke="#141414" stroke-width="1.0"/>
<line x1="360.5" y1="311" x2="360.5" y2="337.8" stroke="#141414" stroke-width="1.0"/>
<polygon points="213.4,314 216.2,312.85 216.2,315.15" fill="#141414"/>
<polygon points="360.5,314 357.7,312.85 357.7,315.15" fill="#141414"/>
<g transform="translate(286.95 314) scale(0.1)" font-weight="bold" fill="#141414" stroke="#141414" stroke-width="2"><text x="-35.5" y="16" font-size="44">4</text><text x="7.5" y="-16" font-size="36" text-anchor="middle">5</text><rect x="-4.5" y="-4" width="24" height="6"/><text x="7.5" y="38" font-size="36" text-anchor="middle">8</text><text x="22.5" y="8" font-size="42">"</text></g>
<line x1="196.2" y1="336.9" x2="196.2" y2="345.85" stroke="#141414" stroke-width="1.0"/>
<line x1="196.2" y1="356.85" x2="196.2" y2="365" stroke="#141414" stroke-width="1.0"/>
<line x1="194.7" y1="339.5" x2="211.5" y2="339.5" stroke="#141414" stroke-width="1.0"/>
<line x1="194.7" y1="363.2" x2="211.5" y2="363.2" stroke="#141414" stroke-width="1.0"/>
<polygon points="196.2,339.2 195.05,342 197.35,342" fill="#141414"/>
<polygon points="196.2,363.5 195.05,360.7 197.35,360.7" fill="#141414"/>
<g transform="translate(196 351.55) scale(0.1)" font-weight="bold" fill="#141414" stroke="#141414" stroke-width="5"><text x="-7" y="-16" font-size="36" text-anchor="middle">3</text><rect x="-19" y="-4" width="24" height="6"/><text x="-7" y="38" font-size="36" text-anchor="middle">4</text><text x="8" y="8" font-size="42">"</text></g>
<line x1="222.8" y1="328.8" x2="222.8" y2="337.1" stroke="#141414" stroke-width="1.0"/>
<line x1="212" y1="330.7" x2="224.4" y2="330.7" stroke="#141414" stroke-width="1.0"/>
<line x1="217.7" y1="330.7" x2="228.2" y2="321.7" stroke="#141414" stroke-width="1.0"/>
<line x1="228.2" y1="321.7" x2="233" y2="321.7" stroke="#141414" stroke-width="1.0"/>
<g transform="translate(234.4 321.9) scale(0.1)" font-weight="bold" fill="#141414" stroke="#141414" stroke-width="3"><text x="0" y="4" font-size="46">9</text><line x1="28" y1="26" x2="50" y2="-30" stroke="#141414" stroke-width="7"/><text x="48" y="36" font-size="46">32</text><text x="104" y="0" font-size="50">"</text></g>
<text x="212.4" y="376.7" font-size="12" fill="#0c0c0c" stroke="#0c0c0c" stroke-width="0.35">SWP110 9/32" BEAD</text>
<path d="M401.3 347.9 L405.3 339.6 L448.2 339.6 L452.3 347.4 L456.4 339.6 L499.1 339.6 L503.8 349.1 L503.8 352.4 L509.7 353.85 L510.1 354.25 L510.1 356.55 L509.7 356.95 L503.8 358.4 L503.8 362.9 L482 362.9 L481 361.4 L472.5 361.4 L471.5 362.9 L441.7 362.9 L440.7 361.4 L432.2 361.4 L431.2 362.9 L403.5 362.9 L403.5 358.5 L408.8 357.2 L408.8 353.6 L401.3 351.9 Z" fill="none" stroke="#0a0a0a" stroke-width="1.9" stroke-linejoin="round"/>
<line x1="398.6" y1="314" x2="451.1" y2="314" stroke="#141414" stroke-width="1.0"/>
<line x1="460.1" y1="314" x2="512.5" y2="314" stroke="#141414" stroke-width="1.0"/>
<line x1="401" y1="311" x2="401" y2="337.1" stroke="#141414" stroke-width="1.0"/>
<line x1="510.1" y1="311" x2="510.1" y2="337.1" stroke="#141414" stroke-width="1.0"/>
<polygon points="401,314 403.8,312.85 403.8,315.15" fill="#141414"/>
<polygon points="510.1,314 507.3,312.85 507.3,315.15" fill="#141414"/>
<g transform="translate(455.6 314) scale(0.1)" font-weight="bold" fill="#141414" stroke="#141414" stroke-width="2"><text x="-45.5" y="16" font-size="44">3</text><text x="7.5" y="-16" font-size="36" text-anchor="middle">5</text><rect x="-14.5" y="-4" width="44" height="6"/><text x="7.5" y="38" font-size="36" text-anchor="middle">16</text><text x="32.5" y="8" font-size="42">"</text></g>
<line x1="398.6" y1="330.7" x2="423.15" y2="330.7" stroke="#141414" stroke-width="1.0"/>
<line x1="430.15" y1="330.7" x2="454.7" y2="330.7" stroke="#141414" stroke-width="1.0"/>
<line x1="401" y1="328" x2="401" y2="337.1" stroke="#141414" stroke-width="1.0"/>
<line x1="452.3" y1="328" x2="452.3" y2="337.1" stroke="#141414" stroke-width="1.0"/>
<polygon points="401,330.7 403.8,329.55 403.8,331.85" fill="#141414"/>
<polygon points="452.3,330.7 449.5,329.55 449.5,331.85" fill="#141414"/>
<g transform="translate(426.65 330.7) scale(0.1)" font-weight="bold" fill="#141414" stroke="#141414" stroke-width="2"><text x="-35.5" y="16" font-size="44">1</text><text x="7.5" y="-16" font-size="36" text-anchor="middle">1</text><rect x="-4.5" y="-4" width="24" height="6"/><text x="7.5" y="38" font-size="36" text-anchor="middle">2</text><text x="22.5" y="8" font-size="42">"</text></g>
<line x1="386" y1="336.8" x2="386" y2="345.8" stroke="#141414" stroke-width="1.0"/>
<line x1="386" y1="356.8" x2="386" y2="365" stroke="#141414" stroke-width="1.0"/>
<line x1="384.4" y1="339.4" x2="400.3" y2="339.4" stroke="#141414" stroke-width="1.0"/>
<line x1="384.4" y1="363.2" x2="400.3" y2="363.2" stroke="#141414" stroke-width="1.0"/>
<polygon points="386,339.1 384.85,341.9 387.15,341.9" fill="#141414"/>
<polygon points="386,363.5 384.85,360.7 387.15,360.7" fill="#141414"/>
<g transform="translate(385.8 351.5) scale(0.1)" font-weight="bold" fill="#141414" stroke="#141414" stroke-width="5"><text x="-7" y="-16" font-size="36" text-anchor="middle">3</text><rect x="-19" y="-4" width="24" height="6"/><text x="-7" y="38" font-size="36" text-anchor="middle">4</text><text x="8" y="8" font-size="42">"</text></g>
<text x="400.2" y="376.7" font-size="12" fill="#0c0c0c" stroke="#0c0c0c" stroke-width="0.35">SWP206 1 1/2" BEVEL</text>
<path d="M589.7 340.7 L589.7 339.7 C593.75 342.77 595.48 343.8 601.26 343.8 C607.04 343.8 608.77 343.27 612.82 340.2 Q615.12 339.15 617.42 340.2 C621.06 343.27 622.62 343.8 627.83 343.8 C633.03 343.8 634.6 343.27 638.24 340.2 Q640.54 339.15 642.84 340.2 C646.48 343.27 648.04 343.8 653.25 343.8 C658.45 343.8 660.02 343.27 663.66 340.2 Q665.96 339.15 668.26 340.2 C671.9 343.27 673.47 343.8 678.67 343.8 C683.88 343.8 685.44 343.27 689.08 340.2 Q691.38 339.15 693.68 340.2 C697.73 343.27 699.46 343.8 705.24 343.8 C711.02 343.8 712.75 342.77 716.8 339.7 L716.8 347.8 L722.9 349.25 L723.3 349.65 L723.3 351.95 L722.9 352.35 L716.8 353.8 L716.8 362.9 L710.9 362.9 L709.9 361.4 L701.3 361.4 L700.3 362.9 L670.4 362.9 L669.4 361.4 L660.9 361.4 L659.9 362.9 L630.1 362.9 L629.1 361.4 L620.6 361.4 L619.6 362.9 L591.6 362.9 L591.6 353.9 L597.2 352.6 L597.2 349 L589.7 347.3 Z" fill="none" stroke="#0a0a0a" stroke-width="1.9" stroke-linejoin="round"/>
<line x1="587" y1="314" x2="650.7" y2="314" stroke="#141414" stroke-width="1.0"/>
<line x1="662.7" y1="314" x2="725.6" y2="314" stroke="#141414" stroke-width="1.0"/>
<line x1="589.4" y1="311" x2="589.4" y2="337.4" stroke="#141414" stroke-width="1.0"/>
<line x1="723.2" y1="311" x2="723.2" y2="337.7" stroke="#141414" stroke-width="1.0"/>
<polygon points="589.4,314 592.2,312.85 592.2,315.15" fill="#141414"/>
<polygon points="723.2,314 720.4,312.85 720.4,315.15" fill="#141414"/>
<g transform="translate(656.7 314) scale(0.1)" font-weight="bold" fill="#141414" stroke="#141414" stroke-width="2"><text x="-45.5" y="16" font-size="44">3</text><text x="7.5" y="-16" font-size="36" text-anchor="middle">15</text><rect x="-14.5" y="-4" width="44" height="6"/><text x="7.5" y="38" font-size="36" text-anchor="middle">16</text><text x="32.5" y="8" font-size="42">"</text></g>
<line x1="572.2" y1="336.8" x2="572.2" y2="345.8" stroke="#141414" stroke-width="1.0"/>
<line x1="572.2" y1="356.8" x2="572.2" y2="365" stroke="#141414" stroke-width="1.0"/>
<line x1="570.7" y1="339.4" x2="587.5" y2="339.4" stroke="#141414" stroke-width="1.0"/>
<line x1="570.7" y1="363.2" x2="587.5" y2="363.2" stroke="#141414" stroke-width="1.0"/>
<polygon points="572.2,339.1 571.05,341.9 573.35,341.9" fill="#141414"/>
<polygon points="572.2,363.5 571.05,360.7 573.35,360.7" fill="#141414"/>
<g transform="translate(572 351.5) scale(0.1)" font-weight="bold" fill="#141414" stroke="#141414" stroke-width="5"><text x="-7" y="-16" font-size="36" text-anchor="middle">3</text><rect x="-19" y="-4" width="24" height="6"/><text x="-7" y="38" font-size="36" text-anchor="middle">4</text><text x="8" y="8" font-size="42">"</text></g>
<line x1="591" y1="328" x2="591" y2="337.8" stroke="#141414" stroke-width="1.0"/>
<line x1="586.8" y1="330.4" x2="598.2" y2="330.4" stroke="#141414" stroke-width="1.0"/>
<line x1="604.2" y1="330.4" x2="615.6" y2="330.4" stroke="#141414" stroke-width="1.0"/>
<line x1="589.2" y1="328" x2="589.2" y2="337.8" stroke="#141414" stroke-width="1.0"/>
<line x1="613.2" y1="328" x2="613.2" y2="337.8" stroke="#141414" stroke-width="1.0"/>
<polygon points="589.2,330.4 592,329.25 592,331.55" fill="#141414"/>
<polygon points="613.2,330.4 610.4,329.25 610.4,331.55" fill="#141414"/>
<g transform="translate(601.2 330.4) scale(0.1)" font-weight="bold" fill="#141414" stroke="#141414" stroke-width="2"><text x="-7" y="-16" font-size="36" text-anchor="middle">5</text><rect x="-19" y="-4" width="24" height="6"/><text x="-7" y="38" font-size="36" text-anchor="middle">8</text><text x="8" y="8" font-size="42">"</text></g>
<text x="588.2" y="376.7" font-size="12" fill="#0c0c0c" stroke="#0c0c0c" stroke-width="0.35">SWP403 5/8" COVE CUT</text>
<path d="M25.6 455 L25.6 454.4 A17.26 17.26 0 0 1 59.73 452.3 A17.45 17.45 0 0 1 93.85 452.3 A17.45 17.45 0 0 1 127.97 452.3 A17.29 17.29 0 0 1 162.1 454 L162.1 455.6 L167.6 457.05 L168 457.45 L168 459.75 L167.6 460.15 L162.1 461.6 L162.1 465.4 L146.8 465.4 L145.8 463.9 L137.2 463.9 L136.2 465.4 L106.3 465.4 L105.3 463.9 L96.8 463.9 L95.8 465.4 L66 465.4 L65 463.9 L56.5 463.9 L55.5 465.4 L27.8 465.4 L27.8 461.7 L33.1 460.4 L33.1 456.8 L25.6 455.1 Z" fill="none" stroke="#0a0a0a" stroke-width="1.9" stroke-linejoin="round"/>
<line x1="22.9" y1="412.9" x2="90.6" y2="412.9" stroke="#141414" stroke-width="1.0"/>
<line x1="102.6" y1="412.9" x2="170.3" y2="412.9" stroke="#141414" stroke-width="1.0"/>
<line x1="25.3" y1="410.6" x2="25.3" y2="436.9" stroke="#141414" stroke-width="1.0"/>
<line x1="167.9" y1="410.6" x2="167.9" y2="437.2" stroke="#141414" stroke-width="1.0"/>
<polygon points="25.3,412.9 28.1,411.75 28.1,414.05" fill="#141414"/>
<polygon points="167.9,412.9 165.1,411.75 165.1,414.05" fill="#141414"/>
<g transform="translate(96.6 412.9) scale(0.1)" font-weight="bold" fill="#141414" stroke="#141414" stroke-width="2"><text x="-35.5" y="16" font-size="44">4</text><text x="7.5" y="-16" font-size="36" text-anchor="middle">1</text><rect x="-4.5" y="-4" width="24" height="6"/><text x="7.5" y="38" font-size="36" text-anchor="middle">4</text><text x="22.5" y="8" font-size="42">"</text></g>
<line x1="8.1" y1="435.6" x2="8.1" y2="448.45" stroke="#141414" stroke-width="1.0"/>
<line x1="8.1" y1="455.45" x2="8.1" y2="467.5" stroke="#141414" stroke-width="1.0"/>
<line x1="6.6" y1="438.2" x2="23.4" y2="438.2" stroke="#141414" stroke-width="1.0"/>
<line x1="6.6" y1="465.7" x2="23.4" y2="465.7" stroke="#141414" stroke-width="1.0"/>
<polygon points="8.1,437.9 6.95,440.7 9.25,440.7" fill="#141414"/>
<polygon points="8.1,466 6.95,463.2 9.25,463.2" fill="#141414"/>
<g transform="translate(7.9 452.15) scale(0.1)" font-weight="bold" fill="#141414" stroke="#141414" stroke-width="5"><text x="-19.5" y="16" font-size="44">1</text><text x="6.5" y="14" font-size="42">"</text></g>
<line x1="22.9" y1="429.9" x2="40.3" y2="429.9" stroke="#141414" stroke-width="1.0"/>
<line x1="45.3" y1="429.9" x2="62.7" y2="429.9" stroke="#141414" stroke-width="1.0"/>
<line x1="25.3" y1="427.2" x2="25.3" y2="436.9" stroke="#141414" stroke-width="1.0"/>
<line x1="60.3" y1="427.2" x2="60.3" y2="436.9" stroke="#141414" stroke-width="1.0"/>
<polygon points="25.3,429.9 28.1,428.75 28.1,431.05" fill="#141414"/>
<polygon points="60.3,429.9 57.5,428.75 57.5,431.05" fill="#141414"/>
<g transform="translate(42.8 429.9) scale(0.1)" font-weight="bold" fill="#141414" stroke="#141414" stroke-width="2"><text x="-19.5" y="16" font-size="44">1</text><text x="6.5" y="14" font-size="42">"</text></g>
<text x="24.4" y="479.7" font-size="12" fill="#0c0c0c" stroke="#0c0c0c" stroke-width="0.35">SWP104 1" BEAD</text>
<path d="M213.7 445.1 L216.4 442.2 L236.3 442.2 L239 445.1 L241.7 442.2 L262 442.2 L264.7 445.1 L267.4 442.2 L287.6 442.2 L290.3 445.1 L293 442.2 L313.2 442.2 L315.9 445.1 L318.6 442.2 L338.4 442.2 L341.6 445.7 L341.6 452.8 L347.4 454.25 L347.8 454.65 L347.8 456.95 L347.4 457.35 L341.6 458.8 L341.6 465.4 L334.9 465.4 L333.9 463.9 L325.3 463.9 L324.3 465.4 L294.4 465.4 L293.4 463.9 L284.9 463.9 L283.9 465.4 L254.1 465.4 L253.1 463.9 L244.6 463.9 L243.6 465.4 L215.6 465.4 L215.6 458.9 L221.2 457.6 L221.2 454 L213.7 452.3 Z" fill="none" stroke="#0a0a0a" stroke-width="1.9" stroke-linejoin="round"/>
<line x1="211" y1="412.9" x2="274.55" y2="412.9" stroke="#141414" stroke-width="1.0"/>
<line x1="286.55" y1="412.9" x2="350.1" y2="412.9" stroke="#141414" stroke-width="1.0"/>
<line x1="213.4" y1="410.6" x2="213.4" y2="436.9" stroke="#141414" stroke-width="1.0"/>
<line x1="347.7" y1="410.6" x2="347.7" y2="437.2" stroke="#141414" stroke-width="1.0"/>
<polygon points="213.4,412.9 216.2,411.75 216.2,414.05" fill="#141414"/>
<polygon points="347.7,412.9 344.9,411.75 344.9,414.05" fill="#141414"/>
<g transform="translate(280.55 412.9) scale(0.1)" font-weight="bold" fill="#141414" stroke="#141414" stroke-width="2"><text x="-45.5" y="16" font-size="44">3</text><text x="7.5" y="-16" font-size="36" text-anchor="middle">15</text><rect x="-14.5" y="-4" width="44" height="6"/><text x="7.5" y="38" font-size="36" text-anchor="middle">16</text><text x="32.5" y="8" font-size="42">"</text></g>
<line x1="196.2" y1="439.3" x2="196.2" y2="448.3" stroke="#141414" stroke-width="1.0"/>
<line x1="196.2" y1="459.3" x2="196.2" y2="467.5" stroke="#141414" stroke-width="1.0"/>
<line x1="194.7" y1="441.9" x2="211.5" y2="441.9" stroke="#141414" stroke-width="1.0"/>
<line x1="194.7" y1="465.7" x2="211.5" y2="465.7" stroke="#141414" stroke-width="1.0"/>
<polygon points="196.2,441.6 195.05,444.4 197.35,444.4" fill="#141414"/>
<polygon points="196.2,466 195.05,463.2 197.35,463.2" fill="#141414"/>
<g transform="translate(196 454) scale(0.1)" font-weight="bold" fill="#141414" stroke="#141414" stroke-width="5"><text x="-7" y="-16" font-size="36" text-anchor="middle">3</text><rect x="-19" y="-4" width="24" height="6"/><text x="-7" y="38" font-size="36" text-anchor="middle">4</text><text x="8" y="8" font-size="42">"</text></g>
<line x1="210.8" y1="429.9" x2="222.3" y2="429.9" stroke="#141414" stroke-width="1.0"/>
<line x1="228.3" y1="429.9" x2="241.4" y2="429.9" stroke="#141414" stroke-width="1.0"/>
<line x1="213.2" y1="427.2" x2="213.2" y2="436.9" stroke="#141414" stroke-width="1.0"/>
<line x1="239" y1="427.2" x2="239" y2="436.9" stroke="#141414" stroke-width="1.0"/>
<polygon points="213.2,429.9 216,428.75 216,431.05" fill="#141414"/>
<polygon points="239,429.9 236.2,428.75 236.2,431.05" fill="#141414"/>
<g transform="translate(225.3 429.9) scale(0.1)" font-weight="bold" fill="#141414" stroke="#141414" stroke-width="2"><text x="-7" y="-16" font-size="36" text-anchor="middle">3</text><rect x="-19" y="-4" width="24" height="6"/><text x="-7" y="38" font-size="36" text-anchor="middle">4</text><text x="8" y="8" font-size="42">"</text></g>
<text x="212.4" y="479.7" font-size="12" fill="#0c0c0c" stroke="#0c0c0c" stroke-width="0.35">SWP201 3/4" BEVEL</text>
<path d="M401.4 451.7 L411.7 431.7 L441.2 431.7 L452.3 450.5 L463.4 431.7 L493.1 431.7 L504.1 450.8 L504.1 455.5 L509.6 456.95 L510 457.35 L510 459.65 L509.6 460.05 L504.1 461.5 L504.1 465.4 L482.1 465.4 L481.1 463.9 L472.6 463.9 L471.6 465.4 L441.8 465.4 L440.8 463.9 L432.3 463.9 L431.3 465.4 L403.6 465.4 L403.6 461.6 L408.9 460.3 L408.9 456.7 L401.4 455 Z" fill="none" stroke="#0a0a0a" stroke-width="1.9" stroke-linejoin="round"/>
<line x1="398.5" y1="412.9" x2="450.8" y2="412.9" stroke="#141414" stroke-width="1.0"/>
<line x1="459.8" y1="412.9" x2="512.4" y2="412.9" stroke="#141414" stroke-width="1.0"/>
<line x1="400.9" y1="410.6" x2="400.9" y2="429" stroke="#141414" stroke-width="1.0"/>
<line x1="510" y1="410.6" x2="510" y2="436.9" stroke="#141414" stroke-width="1.0"/>
<polygon points="400.9,412.9 403.7,411.75 403.7,414.05" fill="#141414"/>
<polygon points="510,412.9 507.2,411.75 507.2,414.05" fill="#141414"/>
<g transform="translate(455.3 412.9) scale(0.1)" font-weight="bold" fill="#141414" stroke="#141414" stroke-width="2"><text x="-45.5" y="16" font-size="44">3</text><text x="7.5" y="-16" font-size="36" text-anchor="middle">5</text><rect x="-14.5" y="-4" width="44" height="6"/><text x="7.5" y="38" font-size="36" text-anchor="middle">16</text><text x="32.5" y="8" font-size="42">"</text></g>
<line x1="398.5" y1="424.1" x2="423.1" y2="424.1" stroke="#141414" stroke-width="1.0"/>
<line x1="430.1" y1="424.1" x2="454.7" y2="424.1" stroke="#141414" stroke-width="1.0"/>
<line x1="400.9" y1="421.6" x2="400.9" y2="429" stroke="#141414" stroke-width="1.0"/>
<line x1="452.3" y1="421.6" x2="452.3" y2="428.1" stroke="#141414" stroke-width="1.0"/>
<polygon points="400.9,424.1 403.7,422.95 403.7,425.25" fill="#141414"/>
<polygon points="452.3,424.1 449.5,422.95 449.5,425.25" fill="#141414"/>
<g transform="translate(426.6 424.1) scale(0.1)" font-weight="bold" fill="#141414" stroke="#141414" stroke-width="2"><text x="-35.5" y="16" font-size="44">1</text><text x="7.5" y="-16" font-size="36" text-anchor="middle">1</text><rect x="-4.5" y="-4" width="24" height="6"/><text x="7.5" y="38" font-size="36" text-anchor="middle">2</text><text x="22.5" y="8" font-size="42">"</text></g>
<line x1="383.7" y1="428.7" x2="383.7" y2="445" stroke="#141414" stroke-width="1.0"/>
<line x1="383.7" y1="452" x2="383.7" y2="467.5" stroke="#141414" stroke-width="1.0"/>
<line x1="382.3" y1="431.3" x2="398.6" y2="431.3" stroke="#141414" stroke-width="1.0"/>
<line x1="382.3" y1="465.7" x2="398.6" y2="465.7" stroke="#141414" stroke-width="1.0"/>
<polygon points="383.7,431 382.55,433.8 384.85,433.8" fill="#141414"/>
<polygon points="383.7,466 382.55,463.2 384.85,463.2" fill="#141414"/>
<g transform="translate(383.5 448.7) scale(0.1)" font-weight="bold" fill="#141414" stroke="#141414" stroke-width="5"><text x="-19.5" y="16" font-size="44">1</text><text x="6.5" y="14" font-size="42">"</text></g>
<text x="400.2" y="479.7" font-size="12" fill="#0c0c0c" stroke="#0c0c0c" stroke-width="0.35">SWP207 1 1/2" BEVEL</text>
<path d="M589.7 443.3 L589.7 442.3 A18.33 18.33 0 0 0 610.97 442.3 A18.33 18.33 0 0 0 632.23 442.3 A18.33 18.33 0 0 0 653.5 442.3 A18.33 18.33 0 0 0 674.77 442.3 A18.33 18.33 0 0 0 696.03 442.3 A18.33 18.33 0 0 0 717.3 442.3 L717.3 449.5 L722.8 450.95 L723.2 451.35 L723.2 453.65 L722.8 454.05 L717.3 455.5 L717.3 465.4 L710.9 465.4 L709.9 463.9 L701.3 463.9 L700.3 465.4 L670.4 465.4 L669.4 463.9 L660.9 463.9 L659.9 465.4 L630.1 465.4 L629.1 463.9 L620.6 463.9 L619.6 465.4 L591.6 465.4 L591.6 455.6 L597.2 454.3 L597.2 450.7 L589.7 449 Z" fill="none" stroke="#0a0a0a" stroke-width="1.9" stroke-linejoin="round"/>
<line x1="587" y1="412.9" x2="650.5" y2="412.9" stroke="#141414" stroke-width="1.0"/>
<line x1="662.5" y1="412.9" x2="725.5" y2="412.9" stroke="#141414" stroke-width="1.0"/>
<line x1="589.4" y1="410.6" x2="589.4" y2="436.9" stroke="#141414" stroke-width="1.0"/>
<line x1="723.1" y1="410.6" x2="723.1" y2="437.2" stroke="#141414" stroke-width="1.0"/>
<polygon points="589.4,412.9 592.2,411.75 592.2,414.05" fill="#141414"/>
<polygon points="723.1,412.9 720.3,411.75 720.3,414.05" fill="#141414"/>
<g transform="translate(656.5 412.9) scale(0.1)" font-weight="bold" fill="#141414" stroke="#141414" stroke-width="2"><text x="-45.5" y="16" font-size="44">3</text><text x="7.5" y="-16" font-size="36" text-anchor="middle">15</text><rect x="-14.5" y="-4" width="44" height="6"/><text x="7.5" y="38" font-size="36" text-anchor="middle">16</text><text x="32.5" y="8" font-size="42">"</text></g>
<line x1="572.2" y1="439.4" x2="572.2" y2="448.35" stroke="#141414" stroke-width="1.0"/>
<line x1="572.2" y1="459.35" x2="572.2" y2="467.5" stroke="#141414" stroke-width="1.0"/>
<line x1="570.7" y1="442" x2="587.5" y2="442" stroke="#141414" stroke-width="1.0"/>
<line x1="570.7" y1="465.7" x2="587.5" y2="465.7" stroke="#141414" stroke-width="1.0"/>
<polygon points="572.2,441.7 571.05,444.5 573.35,444.5" fill="#141414"/>
<polygon points="572.2,466 571.05,463.2 573.35,463.2" fill="#141414"/>
<g transform="translate(572 454.05) scale(0.1)" font-weight="bold" fill="#141414" stroke="#141414" stroke-width="5"><text x="-7" y="-16" font-size="36" text-anchor="middle">3</text><rect x="-19" y="-4" width="24" height="6"/><text x="-7" y="38" font-size="36" text-anchor="middle">4</text><text x="8" y="8" font-size="42">"</text></g>
<line x1="586.5" y1="429.9" x2="596.8" y2="429.9" stroke="#141414" stroke-width="1.0"/>
<line x1="602.8" y1="429.9" x2="613.1" y2="429.9" stroke="#141414" stroke-width="1.0"/>
<line x1="588.9" y1="427.2" x2="588.9" y2="436.9" stroke="#141414" stroke-width="1.0"/>
<line x1="610.7" y1="427.2" x2="610.7" y2="436.9" stroke="#141414" stroke-width="1.0"/>
<polygon points="588.9,429.9 591.7,428.75 591.7,431.05" fill="#141414"/>
<polygon points="610.7,429.9 607.9,428.75 607.9,431.05" fill="#141414"/>
<g transform="translate(599.8 429.9) scale(0.1)" font-weight="bold" fill="#141414" stroke="#141414" stroke-width="2"><text x="-7" y="-16" font-size="36" text-anchor="middle">5</text><rect x="-19" y="-4" width="24" height="6"/><text x="-7" y="38" font-size="36" text-anchor="middle">8</text><text x="8" y="8" font-size="42">"</text></g>
<text x="588.2" y="479.7" font-size="12" fill="#0c0c0c" stroke="#0c0c0c" stroke-width="0.35">SWP STEWART 5/8"</text>
</svg>
</body>
</html>
